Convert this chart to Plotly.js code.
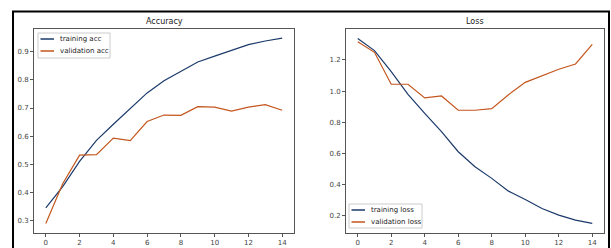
<!DOCTYPE html>
<html><head><meta charset="utf-8">
<script src="https://cdn.plot.ly/plotly-3.0.1.min.js"></script>
<style>html,body{margin:0;padding:0;background:#fff;}#chart{width:611px;height:248px;}</style>
</head><body><div id="chart"></div>
<script>
const epochs = [0,1,2,3,4,5,6,7,8,9,10,11,12,13,14];
const trainAcc = [0.344,0.420,0.510,0.585,0.642,0.698,0.754,0.797,0.829,0.864,0.885,0.906,0.926,0.939,0.949];
const valAcc   = [0.288,0.430,0.532,0.534,0.593,0.584,0.652,0.675,0.674,0.705,0.703,0.689,0.703,0.712,0.692];
const trainLoss = [1.337,1.260,1.125,0.979,0.857,0.740,0.611,0.515,0.440,0.358,0.305,0.247,0.204,0.172,0.151];
const valLoss   = [1.316,1.249,1.044,1.044,0.956,0.969,0.877,0.877,0.887,0.977,1.056,1.097,1.140,1.174,1.300];
const titles = ["Accuracy","Loss"];
const accLabels = ["training acc","validation acc"];
const lossLabels = ["training loss","validation loss"];

const W = 611, H = 248;
const px = v => v / W, py = v => 1 - v / H;
const navy = '#1b3a6b', orange = '#c4561d';

const traces = [
  {x: epochs, y: trainAcc, mode:'lines', line:{color:navy,width:1.2}, xaxis:'x', yaxis:'y', showlegend:false},
  {x: epochs, y: valAcc, mode:'lines', line:{color:orange,width:1.2}, xaxis:'x', yaxis:'y', showlegend:false},
  {x: epochs, y: trainLoss, mode:'lines', line:{color:navy,width:1.2}, xaxis:'x2', yaxis:'y2', showlegend:false},
  {x: epochs, y: valLoss, mode:'lines', line:{color:orange,width:1.2}, xaxis:'x2', yaxis:'y2', showlegend:false}
];

const tickfont = {family:'DejaVu Sans', size:7, color:'#444'};
const axBase = {showline:true, mirror:true, linecolor:'#555', linewidth:1, ticks:'outside', ticklen:3, tickwidth:1, tickcolor:'#555', showgrid:false, zeroline:false, tickfont:tickfont, fixedrange:true};
const ydom = [1-233/H, 1-29/H];

const shapes = [
  {type:'rect', xref:'paper', yref:'paper', x0:px(13), x1:px(609), y0:-0.1, y1:py(11.5), line:{color:'#000', width:2}},
  // legend boxes
  {type:'rect', xref:'paper', yref:'paper', x0:px(38), x1:px(110), y0:py(58), y1:py(33), line:{color:'#ccc', width:1}, fillcolor:'rgba(255,255,255,0.85)'},
  {type:'line', xref:'paper', yref:'paper', x0:px(40.5), x1:px(54), y0:py(39), y1:py(39), line:{color:navy, width:1.5}},
  {type:'line', xref:'paper', yref:'paper', x0:px(40.5), x1:px(54), y0:py(51), y1:py(51), line:{color:orange, width:1.5}},
  {type:'rect', xref:'paper', yref:'paper', x0:px(349), x1:px(422), y0:py(228), y1:py(204), line:{color:'#ccc', width:1}, fillcolor:'rgba(255,255,255,0.85)'},
  {type:'line', xref:'paper', yref:'paper', x0:px(351.5), x1:px(365), y0:py(210), y1:py(210), line:{color:navy, width:1.5}},
  {type:'line', xref:'paper', yref:'paper', x0:px(351.5), x1:px(365), y0:py(222), y1:py(222), line:{color:orange, width:1.5}}
];

const lf = {family:'DejaVu Sans', size:7, color:'#222'};
const annotations = [
  {text:titles[0], xref:'paper', yref:'paper', x:px(164), y:py(21.5), showarrow:false, font:{family:'DejaVu Sans', size:8, color:'#222'}, xanchor:'center', yanchor:'middle'},
  {text:titles[1], xref:'paper', yref:'paper', x:px(475), y:py(21.5), showarrow:false, font:{family:'DejaVu Sans', size:8, color:'#222'}, xanchor:'center', yanchor:'middle'},
  {text:accLabels[0], xref:'paper', yref:'paper', x:px(58), y:py(39), showarrow:false, font:lf, xanchor:'left', yanchor:'middle'},
  {text:accLabels[1], xref:'paper', yref:'paper', x:px(58), y:py(51), showarrow:false, font:lf, xanchor:'left', yanchor:'middle'},
  {text:lossLabels[0], xref:'paper', yref:'paper', x:px(369), y:py(210), showarrow:false, font:lf, xanchor:'left', yanchor:'middle'},
  {text:lossLabels[1], xref:'paper', yref:'paper', x:px(369), y:py(222), showarrow:false, font:lf, xanchor:'left', yanchor:'middle'}
];

const layout = {
  width:W, height:H, margin:{l:0,r:0,t:0,b:0}, paper_bgcolor:'#fff', plot_bgcolor:'#fff',
  showlegend:false,
  xaxis: Object.assign({}, axBase, {domain:[34/W, 294/W], range:[-0.7,14.7], dtick:2, tick0:0, anchor:'y'}),
  yaxis: Object.assign({}, axBase, {domain:ydom, range:[0.2545,0.9818], dtick:0.1, tick0:0, tickformat:'.1f', anchor:'x'}),
  xaxis2: Object.assign({}, axBase, {domain:[346/W, 604/W], range:[-0.7,14.7], dtick:2, tick0:0, anchor:'y2'}),
  yaxis2: Object.assign({}, axBase, {domain:ydom, range:[0.0895,1.3985], dtick:0.2, tick0:0, tickformat:'.1f', anchor:'x2'}),
  shapes: shapes, annotations: annotations
};
Plotly.newPlot('chart', traces, layout, {staticPlot:true, displayModeBar:false});
</script></body></html>
